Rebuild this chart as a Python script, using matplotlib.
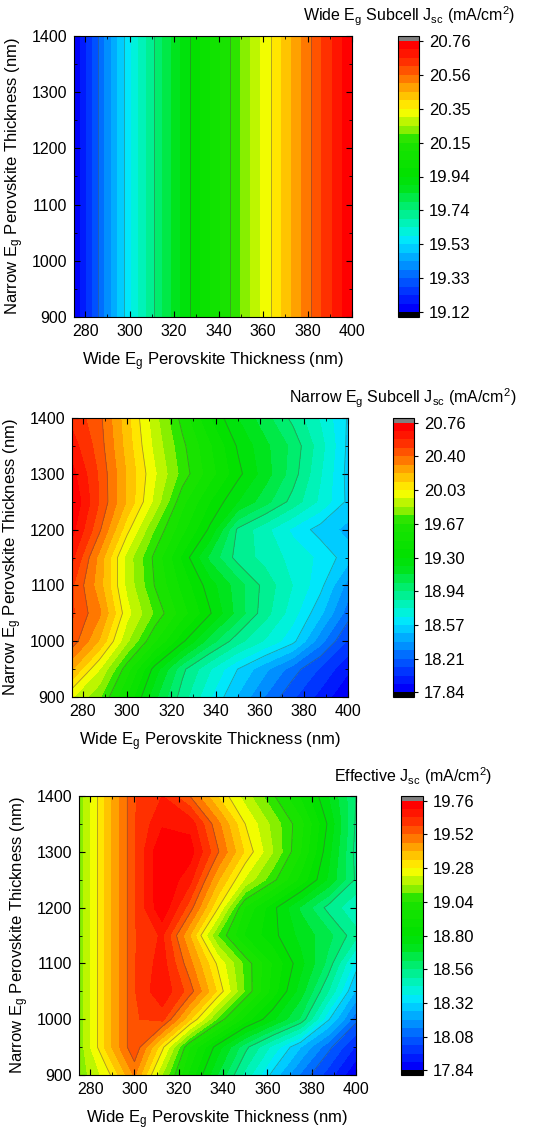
import numpy as np
import matplotlib.pyplot as plt
from matplotlib.cm import ScalarMappable
from matplotlib.colors import LinearSegmentedColormap, BoundaryNorm
from matplotlib.ticker import MultipleLocator

plt.rcParams['font.family'] = ['Liberation Sans', 'DejaVu Sans']
plt.rcParams['mathtext.default'] = 'regular'

# ---------------- data ----------------

# wide Eg thickness (x) and narrow Eg thickness (y, top row first)
wide_nm = [275, 287.5, 300, 312.5, 325, 337.5, 350, 362.5, 375, 387.5, 400]
narrow_nm = [1400, 1350, 1300, 1250, 1200, 1150, 1100, 1050, 1000, 950, 900]

# wide subcell Jsc only changes with the wide layer thickness
wide_jsc_profile = [19.12, 19.36, 19.575, 19.76, 19.915, 20.06, 20.20, 20.34, 20.48, 20.62, 20.76]

narrow_jsc = [
    [20.55, 20.42, 20.15, 19.88, 19.63, 19.39, 19.21, 19.06, 18.91, 18.74, 18.56],
    [20.62, 20.44, 20.17, 19.91, 19.69, 19.49, 19.29, 19.14, 19.00, 18.79, 18.55],
    [20.70, 20.47, 20.20, 19.95, 19.72, 19.52, 19.33, 19.16, 18.98, 18.76, 18.54],
    [20.76, 20.48, 20.20, 19.91, 19.60, 19.39, 19.21, 19.06, 18.90, 18.73, 18.55],
    [20.70, 20.41, 20.06, 19.75, 19.51, 19.28, 18.92, 18.78, 18.64, 18.53, 18.45],
    [20.60, 20.27, 19.90, 19.64, 19.37, 19.09, 18.90, 18.81, 18.72, 18.64, 18.52],
    [20.50, 20.25, 19.91, 19.66, 19.45, 19.25, 19.07, 18.90, 18.75, 18.60, 18.35],
    [20.50, 20.32, 19.97, 19.74, 19.52, 19.31, 19.08, 18.88, 18.70, 18.50, 18.25],
    [20.45, 20.20, 19.86, 19.58, 19.32, 19.07, 18.88, 18.74, 18.60, 18.33, 18.10],
    [20.22, 19.94, 19.61, 19.26, 18.96, 18.76, 18.57, 18.41, 18.25, 18.10, 17.95],
    [19.95, 19.77, 19.47, 19.14, 18.89, 18.67, 18.47, 18.29, 18.13, 17.99, 17.84],
]

effective_jsc = [
    [19.12, 19.36, 19.575, 19.64, 19.52, 19.34, 19.19, 19.05, 18.91, 18.74, 18.56],
    [19.12, 19.36, 19.575, 19.69, 19.68, 19.48, 19.28, 19.14, 19.00, 18.79, 18.55],
    [19.12, 19.36, 19.575, 19.76, 19.73, 19.53, 19.33, 19.16, 18.98, 18.76, 18.54],
    [19.12, 19.36, 19.575, 19.76, 19.66, 19.41, 19.21, 19.06, 18.90, 18.73, 18.55],
    [19.12, 19.36, 19.575, 19.75, 19.55, 19.29, 18.97, 18.82, 18.67, 18.54, 18.45],
    [19.12, 19.36, 19.575, 19.65, 19.40, 19.10, 18.91, 18.82, 18.72, 18.64, 18.52],
    [19.12, 19.36, 19.575, 19.67, 19.48, 19.27, 19.08, 18.91, 18.76, 18.60, 18.35],
    [19.12, 19.36, 19.575, 19.69, 19.55, 19.33, 19.09, 18.89, 18.71, 18.50, 18.25],
    [19.12, 19.36, 19.575, 19.60, 19.35, 19.09, 18.89, 18.75, 18.61, 18.33, 18.10],
    [19.12, 19.36, 19.575, 19.30, 18.98, 18.77, 18.58, 18.42, 18.26, 18.10, 17.95],
    [19.12, 19.25, 19.47, 19.16, 18.90, 18.68, 18.48, 18.30, 18.13, 17.99, 17.84],
]

wide_cb_labels = ['19.12', '19.33', '19.53', '19.74', '19.94', '20.15', '20.35', '20.56', '20.76']
narrow_cb_labels = ['17.84', '18.21', '18.57', '18.94', '19.30', '19.67', '20.03', '20.40', '20.76']
effective_cb_labels = ['17.84', '18.08', '18.32', '18.56', '18.80', '19.04', '19.28', '19.52', '19.76']

x_ticks = [280, 300, 320, 340, 360, 380, 400]
y_ticks = [900, 1000, 1100, 1200, 1300, 1400]

# ---------------- colormap (Origin-like rainbow) ----------------

rainbow_nodes = [
    (0.000, '#0000fa'), (0.060, '#0032ff'), (0.125, '#006eff'), (0.190, '#00aaff'),
    (0.250, '#00e6ff'), (0.300, '#00f5d2'), (0.350, '#00f096'), (0.400, '#00eb5a'),
    (0.450, '#00e41e'), (0.500, '#00e100'), (0.640, '#1ee400'), (0.655, '#64eb00'),
    (0.700, '#b4f500'), (0.750, '#ffff00'), (0.800, '#ffc800'), (0.850, '#ff9100'),
    (0.900, '#ff5500'), (0.950, '#ff1e00'), (1.000, '#ff0000'),
]
cmap = LinearSegmentedColormap.from_list('origin_rainbow', rainbow_nodes, N=256)
cmap = cmap.with_extremes(under='black', over='#808080')

fig = plt.figure(figsize=(5.5, 11.37), dpi=100)
W, H = 550.0, 1137.0


def px_axes(left, top, right, bottom):
    """axes from pixel box (top-left origin)"""
    return fig.add_axes([left / W, 1 - bottom / H, (right - left) / W, (bottom - top) / H])


def draw_panel(box, cbox, z, cb_labels, title, title_xy):
    lo, hi = float(cb_labels[0]), float(cb_labels[-1])
    levels = np.linspace(lo, hi, 33)
    norm = BoundaryNorm(levels, cmap.N)

    ax = px_axes(*box)
    ax.contourf(wide_nm, narrow_nm, z, levels=levels, cmap=cmap, norm=norm)
    ax.contour(wide_nm, narrow_nm, z, levels=np.linspace(lo, hi, 9)[1:-1],
               colors='#4a4a4a', linewidths=0.6, alpha=0.5)

    ax.set_xlim(275, 400)
    ax.set_ylim(900, 1400)
    ax.set_xticks(x_ticks)
    ax.set_yticks(y_ticks)
    ax.xaxis.set_minor_locator(MultipleLocator(10))
    ax.yaxis.set_minor_locator(MultipleLocator(50))
    ax.tick_params(which='both', direction='in', top=True, right=True, labelsize=11.5, pad=5)
    ax.tick_params(which='major', length=4, width=0.8)
    ax.tick_params(which='minor', length=2.5, width=0.6)
    for sp in ax.spines.values():
        sp.set_linewidth(0.8)
    ax.set_xlabel('Wide E$_g$ Perovskite Thickness (nm)', fontsize=12, labelpad=8)
    ax.set_ylabel('Narrow E$_g$ Perovskite Thickness (nm)', fontsize=12, labelpad=4)

    cax = px_axes(*cbox)
    cb = fig.colorbar(ScalarMappable(norm=norm, cmap=cmap), cax=cax, extend='both',
                      extendrect=True, extendfrac=0.017)
    cb.set_ticks(np.linspace(lo, hi, 9))
    cb.set_ticklabels(cb_labels)
    cb.minorticks_off()
    cb.ax.tick_params(labelsize=12, length=3, width=0.8, direction='out', pad=4)
    cb.outline.set_linewidth(0.8)

    fig.text(title_xy[0] / W, 1 - title_xy[1] / H, title, ha='right', va='baseline', fontsize=11.5)


wide_grid = np.tile(wide_jsc_profile, (len(narrow_nm), 1))

draw_panel((74, 36, 352, 317), (398, 36, 419, 317), wide_grid, wide_cb_labels,
           'Wide E$_g$ Subcell J$_{sc}$ (mA/cm$^2$)', (515, 21))
draw_panel((72, 418, 348, 697), (393, 418, 414, 697), narrow_jsc, narrow_cb_labels,
           'Narrow E$_g$ Subcell J$_{sc}$ (mA/cm$^2$)', (516, 403))
draw_panel((79, 796, 356, 1075), (401, 796, 423, 1075), effective_jsc, effective_cb_labels,
           'Effective J$_{sc}$ (mA/cm$^2$)', (492, 782))

fig.savefig('out.png', dpi=100)
